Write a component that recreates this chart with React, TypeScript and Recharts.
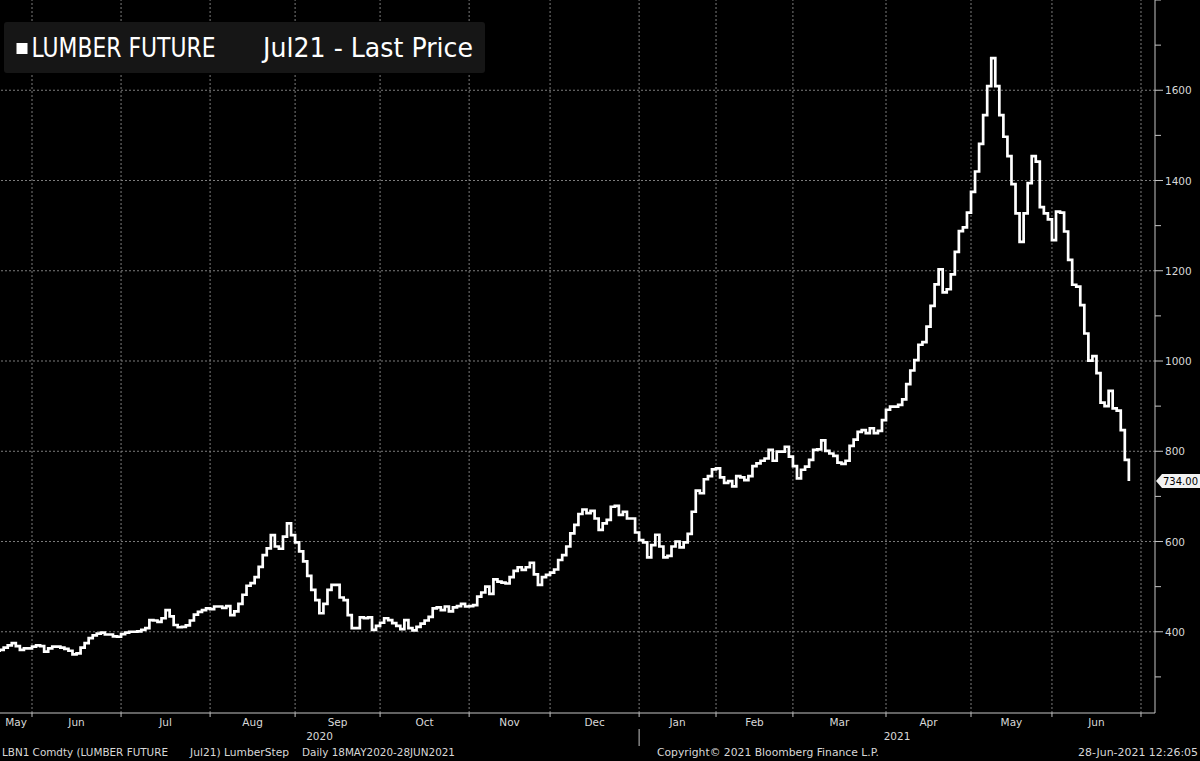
import { LineChart, Line, XAxis, YAxis, ReferenceLine } from 'recharts';

// Lumber future Jul21, daily last price, one value per trading session, grouped by month
const may20 = [358, 360, 365, 370, 375, 368, 360, 363, 363];
const jun20 = [367, 370, 368, 356, 363, 367, 367, 365, 362, 358, 350, 352, 365, 375, 386, 392, 396, 398, 394, 394, 390, 389];
const jul20 = [395, 398, 400, 400, 401, 404, 408, 426, 425, 422, 430, 448, 434, 415, 410, 411, 414, 425, 438, 444, 448, 452];
const aug20 = [450, 456, 456, 453, 457, 437, 445, 462, 482, 502, 508, 521, 544, 570, 585, 614, 589, 584, 611, 640, 614];
const sep20 = [598, 578, 556, 524, 493, 470, 441, 462, 493, 504, 504, 476, 470, 437, 408, 408, 432, 430, 432, 404, 413];
const oct20 = [420, 430, 426, 419, 413, 406, 426, 408, 403, 411, 418, 425, 433, 452, 454, 448, 456, 445, 454, 457, 462, 456];
const nov20 = [457, 459, 478, 487, 500, 484, 516, 511, 509, 507, 521, 535, 543, 537, 543, 553, 527, 504, 521, 526];
const dec20 = [531, 538, 559, 570, 589, 618, 637, 661, 671, 663, 668, 651, 626, 640, 648, 677, 679, 659, 666, 651, 651, 620];
const jan21 = [603, 598, 565, 592, 615, 589, 565, 568, 589, 600, 587, 598, 617, 666, 713, 707, 738, 745, 760];
const feb21 = [762, 742, 730, 734, 722, 745, 742, 736, 745, 767, 773, 779, 784, 803, 779, 799, 799, 810, 788];
const mar21 = [767, 740, 759, 766, 781, 803, 804, 824, 801, 795, 790, 775, 772, 779, 812, 826, 843, 847, 840, 851, 840, 845, 869];
const apr21 = [892, 899, 899, 903, 915, 949, 979, 1002, 1036, 1042, 1076, 1122, 1170, 1203, 1152, 1159, 1192, 1242, 1288, 1296, 1329];
const may21 = [1375, 1420, 1481, 1545, 1609, 1671, 1609, 1545, 1497, 1454, 1392, 1327, 1264, 1327, 1394, 1454, 1442, 1341, 1327, 1314];
const jun21 = [1268, 1331, 1329, 1287, 1224, 1169, 1165, 1124, 1061, 1001, 1011, 973, 908, 900, 934, 895, 890, 847, 781, 734];

const monthLabels = ['May', 'Jun', 'Jul', 'Aug', 'Sep', 'Oct', 'Nov', 'Dec', 'Jan', 'Feb', 'Mar', 'Apr', 'May', 'Jun'];
const yearLabels = ['2020', '2021'];
const priceTicks = [300, 400, 500, 600, 700, 800, 900, 1000, 1100, 1200, 1300, 1400, 1500, 1600, 1700, 1800];
const labelledPrices = [400, 600, 800, 1000, 1200, 1400, 1600];

// session index of 1 Jul 2021 (June 2021 has 22 sessions)
const julStart = 283;
const xDomain: [number, number] = [1.09, 286.46];
const yDomain: [number, number] = [220, 1800];

const monthly = [may20, jun20, jul20, aug20, sep20, oct20, nov20, dec20, jan21, feb21, mar21, apr21, may21, jun21];
const prices = monthly.flat();
const data = prices.map((price, day) => ({ day, price }));
const lastPrice = prices[prices.length - 1];

const monthStarts: number[] = [];
let acc = 0;
monthly.forEach((m) => {
  monthStarts.push(acc);
  acc += m.length;
});
const boundaries = [...monthStarts.slice(1), julStart];
const monthCenters = monthStarts.map((s, k) => (Math.max(s, xDomain[0]) + boundaries[k]) / 2);
const centerLabel = new Map(monthCenters.map((c, k) => [c, monthLabels[k]]));
const janStart = monthStarts[8];
const yearCenters = [(xDomain[0] + janStart) / 2, (janStart + xDomain[1]) / 2];

const FONT = '"DejaVu Sans", Verdana, sans-serif';
const TEXT = '#d8d8d8';
const GRID = '#7c7c7c';
const AXIS = '#c4c4c4';

const MonthTick = (props: any) => {
  const { x, y, payload } = props;
  const label = centerLabel.get(payload.value);
  if (label === undefined) {
    return <line x1={x} x2={x} y1={y} y2={y + 4} stroke={AXIS} strokeWidth={1} />;
  }
  return (
    <text x={x} y={y + 13} textAnchor="middle" fill={TEXT} fontSize={10.5} fontFamily={FONT}>
      {label}
    </text>
  );
};

const YearTick = (props: any) => {
  const { x, y, payload } = props;
  const k = yearCenters.indexOf(payload.value);
  if (k < 0) {
    return <line x1={x} x2={x} y1={y + 2} y2={y + 19} stroke={AXIS} strokeWidth={1} />;
  }
  return (
    <text x={x} y={y + 13} textAnchor="middle" fill={TEXT} fontSize={10.5} fontFamily={FONT}>
      {yearLabels[k]}
    </text>
  );
};

const PriceTick = (props: any) => {
  const { x, y, payload } = props;
  const v = payload.value;
  if (v === lastPrice) {
    return (
      <g>
        <polygon
          points={`${x + 1},${y} ${x + 7},${y - 7} ${x + 45},${y - 7} ${x + 45},${y + 7} ${x + 7},${y + 7}`}
          fill="#f2f2f2"
        />
        <text x={x + 8} y={y + 4} fill="#000" fontSize={10} fontFamily={FONT}>
          {lastPrice.toFixed(2)}
        </text>
      </g>
    );
  }
  const major = labelledPrices.includes(v);
  return (
    <g>
      <line x1={x} x2={x + (major ? 8 : 6)} y1={y} y2={y} stroke={AXIS} strokeWidth={1} />
      {major && (
        <text x={x + 10} y={y + 4} fill={TEXT} fontSize={10.5} fontFamily={FONT}>
          {v}
        </text>
      )}
    </g>
  );
};

const App = () => {
  return (
    <div style={{ position: 'absolute', left: 0, top: 0, width: 1200, height: 761, background: '#000', overflow: 'hidden' }}>
      <LineChart width={1200} height={761} data={data} margin={{ top: 0, right: 0, bottom: 0, left: 0 }}>
        <XAxis
          xAxisId={0}
          dataKey="day"
          type="number"
          domain={xDomain}
          allowDataOverflow
          ticks={[...boundaries, ...monthCenters]}
          interval={0}
          height={14}
          axisLine={{ stroke: AXIS }}
          tickLine={false}
          tickSize={0}
          tickMargin={0}
          tick={<MonthTick />}
        />
        <XAxis
          xAxisId="year"
          dataKey="day"
          type="number"
          domain={xDomain}
          allowDataOverflow
          ticks={[yearCenters[0], janStart, yearCenters[1]]}
          interval={0}
          height={34}
          axisLine={false}
          tickLine={false}
          tickSize={0}
          tickMargin={0}
          tick={<YearTick />}
        />
        <YAxis
          orientation="right"
          type="number"
          domain={yDomain}
          allowDataOverflow
          ticks={[...priceTicks, lastPrice]}
          interval={0}
          width={45}
          axisLine={{ stroke: AXIS }}
          tickLine={false}
          tickSize={0}
          tickMargin={0}
          tick={<PriceTick />}
        />
        {boundaries.map((b) => (
          <ReferenceLine key={`v${b}`} x={b} stroke={GRID} strokeDasharray="2 2" />
        ))}
        {labelledPrices.map((p) => (
          <ReferenceLine key={`h${p}`} y={p} stroke={GRID} strokeDasharray="2 2" />
        ))}
        <Line
          dataKey="price"
          type="stepAfter"
          stroke="#ffffff"
          strokeWidth={2.7}
          dot={false}
          isAnimationActive={false}
        />
      </LineChart>
      <svg width={1200} height={761} style={{ position: 'absolute', left: 0, top: 0, pointerEvents: 'none' }}>
        <rect x={4} y={22} width={481} height={51} rx={3} fill="#161616" />
        <rect x={16.5} y={43} width={11} height={11} fill="#ffffff" />
        <text x={31.5} y={57} fill="#ffffff" fontSize={27} fontFamily={FONT} textLength={184} lengthAdjust="spacingAndGlyphs">
          LUMBER FUTURE
        </text>
        <text x={263} y={57} fill="#ffffff" fontSize={27} fontFamily={FONT} textLength={210} lengthAdjust="spacingAndGlyphs">
          Jul21 - Last Price
        </text>
        <g fill={TEXT} fontSize={10.5} fontFamily={FONT}>
          <text x={2} y={756} textLength={166} lengthAdjust="spacingAndGlyphs">LBN1 Comdty (LUMBER FUTURE</text>
          <text x={190} y={756} textLength={99} lengthAdjust="spacingAndGlyphs">Jul21) LumberStep</text>
          <text x={302} y={756} textLength={153} lengthAdjust="spacingAndGlyphs">Daily 18MAY2020-28JUN2021</text>
          <text x={657} y={756} textLength={222} lengthAdjust="spacingAndGlyphs">Copyright© 2021 Bloomberg Finance L.P.</text>
          <text x={1078} y={756} textLength={120} lengthAdjust="spacingAndGlyphs">28-Jun-2021 12:26:05</text>
        </g>
      </svg>
    </div>
  );
};

export default App;
